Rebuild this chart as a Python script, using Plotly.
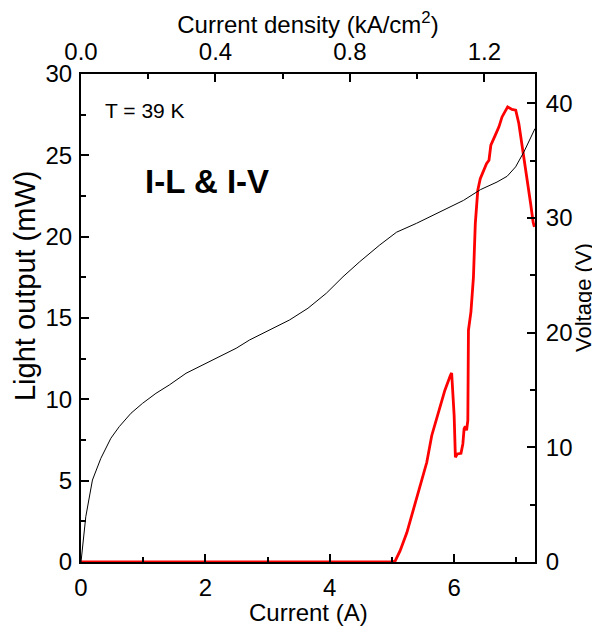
import plotly.graph_objects as go

# ---- data ----
# Light output (left axis, mW) vs current (A) -- red
current_L = [0, 4.99, 5.05, 5.13, 5.24, 5.34, 5.45, 5.56, 5.64, 5.71, 5.77, 5.85, 5.94, 5.96,
             6.00, 6.02, 6.05, 6.11, 6.14, 6.16, 6.18, 6.20, 6.22, 6.23, 6.27, 6.30, 6.31, 6.34,
             6.38, 6.42, 6.48, 6.52, 6.56, 6.59, 6.66, 6.72, 6.77, 6.84, 6.86, 6.93, 6.99, 7.04,
             7.09, 7.18, 7.23, 7.27, 7.29]
light_mW = [0, 0, 0.05, 0.68, 1.81, 3.15, 4.59, 6.13, 7.78, 8.70, 9.63, 10.55, 11.48, 11.62,
            9.0, 6.44, 6.64, 6.68, 7.26, 8.19, 8.33, 8.10, 8.70, 14.25, 15.38, 17.33, 17.5, 20.8,
            22.85, 23.56, 24.07, 24.49, 24.70, 25.62, 26.23, 26.75, 27.36, 27.88, 27.98, 27.82,
            27.78, 26.96, 25.72, 23.46, 22.02, 20.89, 20.6]

# Voltage (right axis, V) vs current (A) -- black
current_V = [0, 0.077, 0.184, 0.319, 0.480, 0.614, 0.803, 0.990, 1.205, 1.420, 1.689, 1.957,
             2.226, 2.495, 2.709, 3.031, 3.354, 3.649, 3.945, 4.213, 4.482, 4.804, 5.073, 5.396,
             5.718, 5.882, 6.151, 6.421, 6.690, 6.852, 6.988, 7.122, 7.267, 7.30]
voltage_V = [0, 3.95, 7.15, 9.04, 10.79, 11.80, 12.97, 13.84, 14.71, 15.44, 16.46, 17.18,
             17.91, 18.64, 19.36, 20.24, 21.11, 22.13, 23.44, 24.88, 26.19, 27.65, 28.76, 29.54,
             30.41, 30.82, 31.54, 32.47, 33.14, 33.64, 34.46, 35.77, 37.44, 37.8]

# axis settings
x_range = [0, 7.3]
j_per_amp = 0.185          # kA/cm^2 per A (top axis scale)
y_left_range = [0, 30]
y_right_range = [0, 42.56]
x_ticks = [0, 2, 4, 6]
j_ticks = [0.0, 0.4, 0.8, 1.2]
y_left_ticks = [0, 5, 10, 15, 20, 25, 30]
y_right_ticks = [0, 10, 20, 30, 40]

FONT = "Arial, Liberation Sans, sans-serif"

fig = go.Figure()
fig.add_trace(go.Scatter(x=current_V, y=voltage_V, mode="lines", yaxis="y2",
                         line=dict(color="black", width=1), showlegend=False, hoverinfo="skip"))
fig.add_trace(go.Scatter(x=current_L, y=light_mW, mode="lines", yaxis="y",
                         line=dict(color="#ff0000", width=2.8), showlegend=False, hoverinfo="skip"))
# carrier for the top axis
fig.add_trace(go.Scatter(x=[x_range[0] * j_per_amp, x_range[1] * j_per_amp], y=[0, 0],
                         xaxis="x2", yaxis="y", mode="lines", line=dict(width=0),
                         opacity=0, showlegend=False, hoverinfo="skip"))

axis_common = dict(showgrid=False, zeroline=False, showline=True, linecolor="black", linewidth=2,
                   ticks="inside", ticklen=8, tickwidth=1.5, tickcolor="black", automargin=False,
                   tickfont=dict(family=FONT, size=24, color="black"))

# the page adds an 8 px body margin, so the figure is shrunk and margins shifted
fig.update_layout(
    width=592, height=619,
    margin=dict(l=73, r=65, t=66, b=65, pad=0),
    paper_bgcolor="white", plot_bgcolor="white",
    font=dict(family=FONT, color="black"),
    xaxis=dict(range=x_range, tickvals=x_ticks, ticklabelstandoff=3,
               minor=dict(ticks="inside", ticklen=5, tickwidth=1.5, tickcolor="black", dtick=1, tick0=0),
               **axis_common),
    xaxis2=dict(range=[x_range[0] * j_per_amp, x_range[1] * j_per_amp], overlaying="x", side="top",
                anchor="y", tickvals=j_ticks, tickformat=".1f", ticklabelstandoff=2,
                minor=dict(ticks="inside", ticklen=5, tickwidth=1.5, tickcolor="black", dtick=0.2, tick0=0),
                title=dict(text="Current density (kA/cm<sup>2</sup>)", font=dict(family=FONT, size=24)),
                **axis_common),
    yaxis=dict(range=y_left_range, tickvals=y_left_ticks, ticklabelstandoff=2,
               minor=dict(ticks="inside", ticklen=5, tickwidth=1.5, tickcolor="black", dtick=2.5, tick0=0),
               **axis_common),
    yaxis2=dict(range=y_right_range, overlaying="y", side="right", anchor="x",
                tickvals=y_right_ticks, ticklabelstandoff=4,
                minor=dict(ticks="inside", ticklen=5, tickwidth=1.5, tickcolor="black", dtick=5, tick0=0),
                **axis_common),
    annotations=[
        dict(text="Current (A)", x=0.5, y=-0.1025, xref="paper", yref="paper",
             xanchor="center", yanchor="middle", showarrow=False,
             font=dict(family=FONT, size=24, color="black")),
        dict(text="Light output (mW)", x=-0.1233, y=0.5656, xref="paper", yref="paper",
             xanchor="center", yanchor="middle", textangle=-90, showarrow=False,
             font=dict(family=FONT, size=29, color="black")),
        dict(text="Voltage (V)", x=1.108, y=0.541, xref="paper", yref="paper",
             xanchor="center", yanchor="middle", textangle=-90, showarrow=False,
             font=dict(family=FONT, size=22, color="black")),
        dict(text="T = 39 K", x=0.356, y=27.74, xref="x", yref="y", xanchor="left", yanchor="middle",
             showarrow=False, font=dict(family=FONT, size=21, color="black")),
        dict(text="<b>I-L &amp; I-V</b>", x=2.03, y=23.37, xref="x", yref="y", xanchor="center",
             yanchor="middle", showarrow=False, font=dict(family=FONT, size=33, color="black")),
    ],
)

fig.write_html("out.html")
